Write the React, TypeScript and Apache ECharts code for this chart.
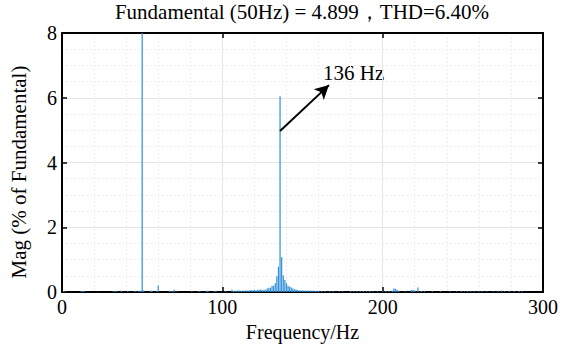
import React, { useEffect, useRef } from "react";
import * as echarts from "echarts";

const titleText = "Fundamental (50Hz) = 4.899，THD=6.40%";
const xAxisName = "Frequency/Hz";
const yAxisName = "Mag (% of Fundamental)";
const annotationText = "136 Hz";

// Spectrum bins (Hz) and magnitudes (% of fundamental)
const freqHz = [
  1, 2, 12, 13, 14, 22, 32, 33, 34, 37, 41, 45, 46, 48, 49, 50, 51, 55, 56, 59, 60,
  67, 68, 69, 70, 72, 81, 85, 86, 90, 91, 95, 96, 102, 106, 107, 108, 109, 110, 111,
  112, 113, 114, 115, 116, 117, 118, 119, 120, 121, 122, 123, 124, 125, 126, 127, 128,
  129, 130, 131, 132, 133, 134, 135, 136, 137, 138, 139, 140, 141, 142, 143, 144, 145,
  146, 147, 148, 149, 150, 151, 152, 153, 154, 155, 156, 157, 158, 159, 160, 162, 164,
  167, 169, 173, 175, 180, 182, 184, 186, 188, 190, 192, 194, 197, 200, 202, 204, 206,
  207, 208, 209, 210, 214, 218, 219, 220, 222, 224, 226, 231, 236, 242, 246, 249, 251,
  253, 255, 257, 260, 262, 265, 269, 272, 274, 276, 279, 282, 285, 287,
];
const magPct = [
  0.02, 0.02, 0.02, 0.03, 0.02, 0.01, 0.02, 0.02, 0.02, 0.05, 0.02, 0.02, 0.02, 0.04, 0.04, 100, 0.05, 0.05, 0.04, 0.02, 0.2,
  0.02, 0.02, 0.02, 0.07, 0.02, 0.02, 0.02, 0.02, 0.04, 0.04, 0.02, 0.02, 0.02, 0.07, 0.03, 0.04, 0.04, 0.05, 0.05,
  0.03, 0.05, 0.04, 0.05, 0.04, 0.05, 0.06, 0.05, 0.07, 0.05, 0.07, 0.06, 0.08, 0.06, 0.06, 0.07, 0.11,
  0.13, 0.13, 0.19, 0.19, 0.27, 0.49, 0.78, 6.05, 1.07, 0.52, 0.37, 0.27, 0.19, 0.16, 0.14, 0.11, 0.09,
  0.07, 0.06, 0.05, 0.05, 0.05, 0.04, 0.05, 0.04, 0.05, 0.04, 0.04, 0.05, 0.03, 0.04, 0.03, 0.03, 0.03,
  0.02, 0.03, 0.02, 0.02, 0.03, 0.02, 0.03, 0.02, 0.03, 0.02, 0.03, 0.02, 0.02, 0.02, 0.03, 0.03, 0.04,
  0.11, 0.1, 0.06, 0.04, 0.02, 0.06, 0.06, 0.05, 0.14, 0.03, 0.02, 0.02, 0.02, 0.02, 0.02, 0.02, 0.02,
  0.03, 0.02, 0.02, 0.02, 0.02, 0.02, 0.02, 0.02, 0.05, 0.02, 0.02, 0.02, 0.03, 0.02,
];

// Arrow annotation endpoints in data space [Hz, %]
const arrowTail = [136, 4.97];
const arrowHead = [166.5, 6.39];

const FONT = "Liberation Serif";

export default function App() {
  const ref = useRef<HTMLDivElement>(null);
  useEffect(() => {
    if (!ref.current) return;
    const chart = echarts.init(ref.current, undefined, { renderer: "svg" });
    const data = freqHz.map((f, i) => [f, magPct[i]]);
    const axisLine = { show: true, onZero: false, lineStyle: { color: "#000", width: 2 } };
    const tick = { show: true, inside: true, length: 5, lineStyle: { color: "#000", width: 1.5 } };
    const splitLine = { show: true, lineStyle: { color: "#e4e4e4", width: 1 } };
    const minorSplitLine = { show: true, lineStyle: { color: "#efefef", width: 1, type: [2, 2] } };
    chart.setOption({
      animation: false,
      backgroundColor: "#fff",
      textStyle: { fontFamily: FONT },
      grid: { left: 62, right: 26, top: 33, bottom: 56 },
      graphic: [
        {
          type: "text",
          x: 302,
          y: 12,
          style: {
            text: titleText,
            font: `21px ${FONT}`,
            fill: "#000",
            textAlign: "center",
            textVerticalAlign: "middle",
          },
        },
        {
          type: "text",
          x: 323,
          y: 73,
          style: {
            text: annotationText,
            font: `21px ${FONT}`,
            fill: "#000",
            textAlign: "left",
            textVerticalAlign: "middle",
          },
        },
        {
          type: "text",
          x: 19,
          y: 172,
          rotation: Math.PI / 2,
          style: {
            text: yAxisName,
            font: `21px ${FONT}`,
            fill: "#000",
            textAlign: "center",
            textVerticalAlign: "middle",
          },
        },
      ],
      xAxis: [
        {
          type: "value",
          min: 0,
          max: 300,
          interval: 100,
          name: xAxisName,
          nameLocation: "middle",
          nameGap: 27,
          nameTextStyle: { fontFamily: FONT, fontSize: 20, color: "#000" },
          axisLine,
          axisTick: tick,
          axisLabel: { fontFamily: FONT, fontSize: 20, color: "#000", margin: 5 },
          splitLine,
          minorTick: { show: false, splitNumber: 5 },
          minorSplitLine,
        },
        {
          type: "value",
          position: "top",
          min: 0,
          max: 300,
          interval: 100,
          axisLine,
          axisTick: tick,
          axisLabel: { show: false },
          splitLine: { show: false },
        },
      ],
      yAxis: [
        {
          type: "value",
          min: 0,
          max: 8,
          interval: 2,
          axisLine,
          axisTick: tick,
          axisLabel: { fontFamily: FONT, fontSize: 20, color: "#000", margin: 5 },
          splitLine,
          minorTick: { show: false, splitNumber: 4 },
          minorSplitLine,
        },
        {
          type: "value",
          position: "right",
          min: 0,
          max: 8,
          interval: 2,
          axisLine,
          axisTick: tick,
          axisLabel: { show: false },
          splitLine: { show: false },
        },
      ],
      series: [
        {
          type: "bar",
          xAxisIndex: 0,
          yAxisIndex: 0,
          data,
          barWidth: 1.2,
          clip: true,
          itemStyle: { color: "#2f8fd8" },
          markLine: {
            silent: true,
            symbol: ["none", "arrow"],
            symbolSize: [11, 14],
            label: { show: false },
            lineStyle: { color: "#000", width: 2, type: "solid" },
            data: [[{ coord: arrowTail }, { coord: arrowHead }]],
          },
        },
      ],
    });
    return () => chart.dispose();
  }, []);
  return <div ref={ref} style={{ width: 569, height: 348, position: "absolute", left: 0, top: 0 }} />;
}
